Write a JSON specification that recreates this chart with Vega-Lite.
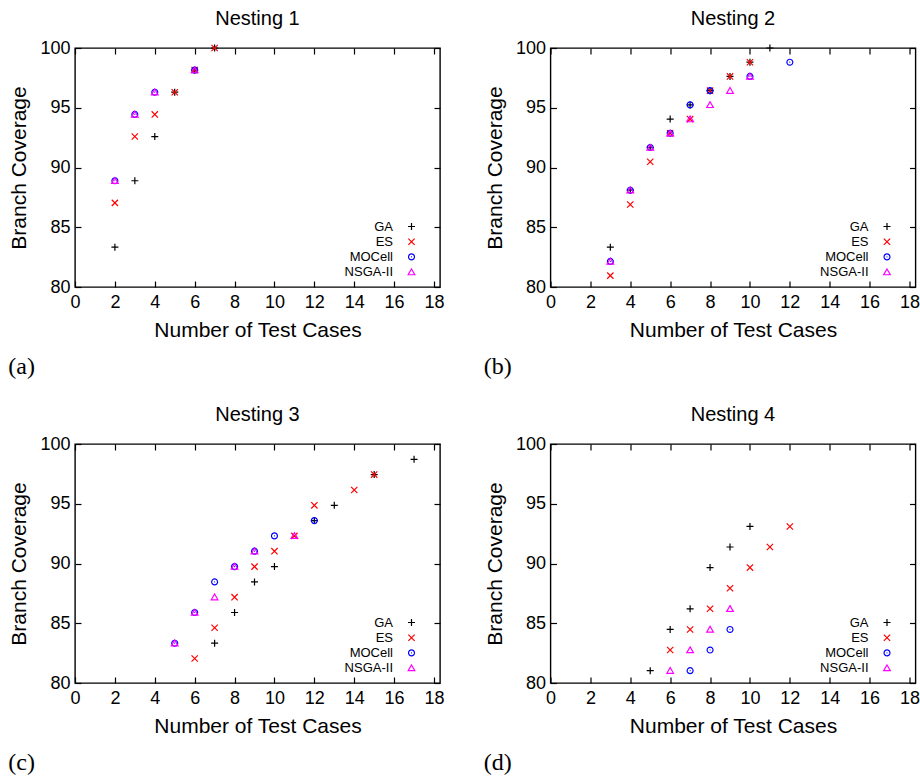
{
  "$schema": "https://vega.github.io/schema/vega-lite/v6.json",
  "padding": {"left": 8, "top": 8, "right": 0, "bottom": 0},
  "background": "white",
  "config": {
    "font": "Liberation Sans",
    "view": {"stroke": "#000000", "strokeWidth": 1.4},
    "axis": {
      "domain": false, "grid": false, "tickColor": "#000000", "tickWidth": 1.2, "tickSize": -6,
      "labelFontSize": 18, "labelColor": "#000000", "labelFlush": false, "labelFont": "Liberation Sans",
      "titleFontSize": 21, "titleFontWeight": "normal", "titleColor": "#000000", "titleFont": "Liberation Sans"
    },
    "legend": {"title": null, "orient": "none", "legendX": 330, "legendY": 172, "labelAlign": "right", "labelOffset": -25, "labelFontSize": 13, "labelFont": "Liberation Sans", "symbolStrokeWidth": 1.2, "symbolSize": 49, "rowPadding": 1.2},
    "title": {"fontSize": 20, "fontWeight": "normal", "color": "#000000", "font": "Liberation Sans"}
  },
  "datasets": {
    "pts": [
      {"n": "Nesting 1", "alg": "GA", "tc": 2, "cov": 83.33},
      {"n": "Nesting 1", "alg": "GA", "tc": 3, "cov": 88.89},
      {"n": "Nesting 1", "alg": "GA", "tc": 4, "cov": 92.59},
      {"n": "Nesting 1", "alg": "GA", "tc": 5, "cov": 96.30},
      {"n": "Nesting 1", "alg": "GA", "tc": 6, "cov": 98.15},
      {"n": "Nesting 1", "alg": "GA", "tc": 7, "cov": 100},
      {"n": "Nesting 1", "alg": "ES", "tc": 2, "cov": 87.04},
      {"n": "Nesting 1", "alg": "ES", "tc": 3, "cov": 92.59},
      {"n": "Nesting 1", "alg": "ES", "tc": 4, "cov": 94.44},
      {"n": "Nesting 1", "alg": "ES", "tc": 5, "cov": 96.30},
      {"n": "Nesting 1", "alg": "ES", "tc": 6, "cov": 98.15},
      {"n": "Nesting 1", "alg": "ES", "tc": 7, "cov": 100},
      {"n": "Nesting 1", "alg": "MOCell", "tc": 2, "cov": 88.89},
      {"n": "Nesting 1", "alg": "MOCell", "tc": 3, "cov": 94.44},
      {"n": "Nesting 1", "alg": "MOCell", "tc": 4, "cov": 96.30},
      {"n": "Nesting 1", "alg": "MOCell", "tc": 6, "cov": 98.15},
      {"n": "Nesting 1", "alg": "NSGA-II", "tc": 2, "cov": 88.89},
      {"n": "Nesting 1", "alg": "NSGA-II", "tc": 3, "cov": 94.44},
      {"n": "Nesting 1", "alg": "NSGA-II", "tc": 4, "cov": 96.30},
      {"n": "Nesting 1", "alg": "NSGA-II", "tc": 6, "cov": 98.15},

      {"n": "Nesting 2", "alg": "GA", "tc": 3, "cov": 83.33},
      {"n": "Nesting 2", "alg": "GA", "tc": 4, "cov": 88.10},
      {"n": "Nesting 2", "alg": "GA", "tc": 5, "cov": 91.67},
      {"n": "Nesting 2", "alg": "GA", "tc": 6, "cov": 94.05},
      {"n": "Nesting 2", "alg": "GA", "tc": 7, "cov": 95.24},
      {"n": "Nesting 2", "alg": "GA", "tc": 8, "cov": 96.43},
      {"n": "Nesting 2", "alg": "GA", "tc": 9, "cov": 97.62},
      {"n": "Nesting 2", "alg": "GA", "tc": 10, "cov": 98.81},
      {"n": "Nesting 2", "alg": "GA", "tc": 11, "cov": 100},
      {"n": "Nesting 2", "alg": "ES", "tc": 3, "cov": 80.95},
      {"n": "Nesting 2", "alg": "ES", "tc": 4, "cov": 86.90},
      {"n": "Nesting 2", "alg": "ES", "tc": 5, "cov": 90.48},
      {"n": "Nesting 2", "alg": "ES", "tc": 6, "cov": 92.86},
      {"n": "Nesting 2", "alg": "ES", "tc": 7, "cov": 94.05},
      {"n": "Nesting 2", "alg": "ES", "tc": 8, "cov": 96.43},
      {"n": "Nesting 2", "alg": "ES", "tc": 9, "cov": 97.62},
      {"n": "Nesting 2", "alg": "ES", "tc": 10, "cov": 98.81},
      {"n": "Nesting 2", "alg": "MOCell", "tc": 3, "cov": 82.14},
      {"n": "Nesting 2", "alg": "MOCell", "tc": 4, "cov": 88.10},
      {"n": "Nesting 2", "alg": "MOCell", "tc": 5, "cov": 91.67},
      {"n": "Nesting 2", "alg": "MOCell", "tc": 6, "cov": 92.86},
      {"n": "Nesting 2", "alg": "MOCell", "tc": 7, "cov": 95.24},
      {"n": "Nesting 2", "alg": "MOCell", "tc": 8, "cov": 96.43},
      {"n": "Nesting 2", "alg": "MOCell", "tc": 10, "cov": 97.62},
      {"n": "Nesting 2", "alg": "MOCell", "tc": 12, "cov": 98.81},
      {"n": "Nesting 2", "alg": "NSGA-II", "tc": 3, "cov": 82.14},
      {"n": "Nesting 2", "alg": "NSGA-II", "tc": 4, "cov": 88.10},
      {"n": "Nesting 2", "alg": "NSGA-II", "tc": 5, "cov": 91.67},
      {"n": "Nesting 2", "alg": "NSGA-II", "tc": 6, "cov": 92.86},
      {"n": "Nesting 2", "alg": "NSGA-II", "tc": 7, "cov": 94.05},
      {"n": "Nesting 2", "alg": "NSGA-II", "tc": 8, "cov": 95.24},
      {"n": "Nesting 2", "alg": "NSGA-II", "tc": 9, "cov": 96.43},
      {"n": "Nesting 2", "alg": "NSGA-II", "tc": 10, "cov": 97.62},

      {"n": "Nesting 3", "alg": "GA", "tc": 7, "cov": 83.33},
      {"n": "Nesting 3", "alg": "GA", "tc": 8, "cov": 85.90},
      {"n": "Nesting 3", "alg": "GA", "tc": 9, "cov": 88.46},
      {"n": "Nesting 3", "alg": "GA", "tc": 10, "cov": 89.74},
      {"n": "Nesting 3", "alg": "GA", "tc": 12, "cov": 93.59},
      {"n": "Nesting 3", "alg": "GA", "tc": 13, "cov": 94.87},
      {"n": "Nesting 3", "alg": "GA", "tc": 15, "cov": 97.44},
      {"n": "Nesting 3", "alg": "GA", "tc": 17, "cov": 98.72},
      {"n": "Nesting 3", "alg": "ES", "tc": 6, "cov": 82.05},
      {"n": "Nesting 3", "alg": "ES", "tc": 7, "cov": 84.62},
      {"n": "Nesting 3", "alg": "ES", "tc": 8, "cov": 87.18},
      {"n": "Nesting 3", "alg": "ES", "tc": 9, "cov": 89.74},
      {"n": "Nesting 3", "alg": "ES", "tc": 10, "cov": 91.03},
      {"n": "Nesting 3", "alg": "ES", "tc": 11, "cov": 92.31},
      {"n": "Nesting 3", "alg": "ES", "tc": 12, "cov": 94.87},
      {"n": "Nesting 3", "alg": "ES", "tc": 14, "cov": 96.15},
      {"n": "Nesting 3", "alg": "ES", "tc": 15, "cov": 97.44},
      {"n": "Nesting 3", "alg": "MOCell", "tc": 5, "cov": 83.33},
      {"n": "Nesting 3", "alg": "MOCell", "tc": 6, "cov": 85.90},
      {"n": "Nesting 3", "alg": "MOCell", "tc": 7, "cov": 88.46},
      {"n": "Nesting 3", "alg": "MOCell", "tc": 8, "cov": 89.74},
      {"n": "Nesting 3", "alg": "MOCell", "tc": 9, "cov": 91.03},
      {"n": "Nesting 3", "alg": "MOCell", "tc": 10, "cov": 92.31},
      {"n": "Nesting 3", "alg": "MOCell", "tc": 12, "cov": 93.59},
      {"n": "Nesting 3", "alg": "NSGA-II", "tc": 5, "cov": 83.33},
      {"n": "Nesting 3", "alg": "NSGA-II", "tc": 6, "cov": 85.90},
      {"n": "Nesting 3", "alg": "NSGA-II", "tc": 7, "cov": 87.18},
      {"n": "Nesting 3", "alg": "NSGA-II", "tc": 8, "cov": 89.74},
      {"n": "Nesting 3", "alg": "NSGA-II", "tc": 9, "cov": 91.03},
      {"n": "Nesting 3", "alg": "NSGA-II", "tc": 11, "cov": 92.31},

      {"n": "Nesting 4", "alg": "GA", "tc": 5, "cov": 81.03},
      {"n": "Nesting 4", "alg": "GA", "tc": 6, "cov": 84.48},
      {"n": "Nesting 4", "alg": "GA", "tc": 7, "cov": 86.21},
      {"n": "Nesting 4", "alg": "GA", "tc": 8, "cov": 89.66},
      {"n": "Nesting 4", "alg": "GA", "tc": 9, "cov": 91.38},
      {"n": "Nesting 4", "alg": "GA", "tc": 10, "cov": 93.10},
      {"n": "Nesting 4", "alg": "ES", "tc": 6, "cov": 82.76},
      {"n": "Nesting 4", "alg": "ES", "tc": 7, "cov": 84.48},
      {"n": "Nesting 4", "alg": "ES", "tc": 8, "cov": 86.21},
      {"n": "Nesting 4", "alg": "ES", "tc": 9, "cov": 87.93},
      {"n": "Nesting 4", "alg": "ES", "tc": 10, "cov": 89.66},
      {"n": "Nesting 4", "alg": "ES", "tc": 11, "cov": 91.38},
      {"n": "Nesting 4", "alg": "ES", "tc": 12, "cov": 93.10},
      {"n": "Nesting 4", "alg": "MOCell", "tc": 7, "cov": 81.03},
      {"n": "Nesting 4", "alg": "MOCell", "tc": 8, "cov": 82.76},
      {"n": "Nesting 4", "alg": "MOCell", "tc": 9, "cov": 84.48},
      {"n": "Nesting 4", "alg": "NSGA-II", "tc": 6, "cov": 81.03},
      {"n": "Nesting 4", "alg": "NSGA-II", "tc": 7, "cov": 82.76},
      {"n": "Nesting 4", "alg": "NSGA-II", "tc": 8, "cov": 84.48},
      {"n": "Nesting 4", "alg": "NSGA-II", "tc": 9, "cov": 86.21}
    ]
  },
  "data": {"name": "pts"},
  "resolve": {"scale": {"color": "independent", "shape": "independent"}},
  "spacing": 25,
  "vconcat": [
    {
      "spacing": 38.5,
      "resolve": {"scale": {"color": "independent", "shape": "independent"}},
      "hconcat": [
        {
          "title": {"text": "(a)", "orient": "bottom", "anchor": "start", "font": "Liberation Serif", "fontSize": 24, "offset": 14},
          "resolve": {"scale": {"color": "independent", "shape": "independent"}},
          "vconcat": [
            {
              "title": {"text": "Nesting 1", "offset": 10},
              "width": 365, "height": 239,
              "transform": [{"filter": "datum.n === 'Nesting 1'"}],
              "resolve": {"axis": {"x": "independent", "y": "independent"}},
              "layer": [
                {
                  "mark": {"type": "point", "filled": false, "strokeWidth": 1.2, "size": 49, "opacity": 1},
                  "encoding": {
                    "x": {"field": "tc", "type": "quantitative", "scale": {"domain": [0, 18.3], "nice": false, "zero": false}, "axis": {"orient": "bottom", "values": [0, 2, 4, 6, 8, 10, 12, 14, 16, 18], "labelPadding": 12, "title": "Number of Test Cases", "titlePadding": 8}},
                    "y": {"field": "cov", "type": "quantitative", "scale": {"domain": [80, 100], "nice": false, "zero": false}, "axis": {"orient": "left", "values": [80, 85, 90, 95, 100], "labelPadding": 11, "title": "Branch Coverage", "titlePadding": 10}},
                    "color": {"field": "alg", "type": "nominal", "sort": ["GA", "ES", "MOCell", "NSGA-II"], "scale": {"domain": ["GA", "ES", "MOCell", "NSGA-II"], "range": ["#000000", "#ff0000", "#0000ff", "#ff00ff"]}, "legend": {"encode": {"labels": {"update": {"fill": {"signal": "datum.label === 'GA' ? '#000000' : datum.label === 'ES' ? '#ff0000' : datum.label === 'MOCell' ? '#0000ff' : '#ff00ff'"}}}}}},
                    "shape": {"field": "alg", "type": "nominal", "sort": ["GA", "ES", "MOCell", "NSGA-II"], "scale": {"domain": ["GA", "ES", "MOCell", "NSGA-II"], "range": ["M-1,0L1,0M0,-1L0,1", "M-0.9,-0.9L0.9,0.9M-0.9,0.9L0.9,-0.9", "M-0.85,0A0.85,0.85 0 1,0 0.85,0A0.85,0.85 0 1,0 -0.85,0M-0.12,0L0.12,0", "M0,-0.9L0.95,0.75L-0.95,0.75Z"]}, "legend": {"encode": {"labels": {"update": {"fill": {"signal": "datum.label === 'GA' ? '#000000' : datum.label === 'ES' ? '#ff0000' : datum.label === 'MOCell' ? '#0000ff' : '#ff00ff'"}}}}}}
                  }
                },
                {
                  "mark": {"type": "point", "opacity": 0},
                  "encoding": {
                    "x": {"field": "tc", "type": "quantitative", "scale": {"domain": [0, 18.3], "nice": false, "zero": false}, "axis": {"orient": "top", "values": [0, 2, 4, 6, 8, 10, 12, 14, 16, 18], "labels": false, "title": null}},
                    "y": {"field": "cov", "type": "quantitative", "scale": {"domain": [80, 100], "nice": false, "zero": false}, "axis": {"orient": "right", "values": [80, 85, 90, 95, 100], "labels": false, "title": null}}
                  }
                }
              ]
            }
          ]
        },
        {
          "title": {"text": "(b)", "orient": "bottom", "anchor": "start", "font": "Liberation Serif", "fontSize": 24, "offset": 14},
          "resolve": {"scale": {"color": "independent", "shape": "independent"}},
          "vconcat": [
            {
              "title": {"text": "Nesting 2", "offset": 10},
              "width": 365, "height": 239,
              "transform": [{"filter": "datum.n === 'Nesting 2'"}],
              "resolve": {"axis": {"x": "independent", "y": "independent"}},
              "layer": [
                {
                  "mark": {"type": "point", "filled": false, "strokeWidth": 1.2, "size": 49, "opacity": 1},
                  "encoding": {
                    "x": {"field": "tc", "type": "quantitative", "scale": {"domain": [0, 18.3], "nice": false, "zero": false}, "axis": {"orient": "bottom", "values": [0, 2, 4, 6, 8, 10, 12, 14, 16, 18], "labelPadding": 12, "title": "Number of Test Cases", "titlePadding": 8}},
                    "y": {"field": "cov", "type": "quantitative", "scale": {"domain": [80, 100], "nice": false, "zero": false}, "axis": {"orient": "left", "values": [80, 85, 90, 95, 100], "labelPadding": 11, "title": "Branch Coverage", "titlePadding": 10}},
                    "color": {"field": "alg", "type": "nominal", "sort": ["GA", "ES", "MOCell", "NSGA-II"], "scale": {"domain": ["GA", "ES", "MOCell", "NSGA-II"], "range": ["#000000", "#ff0000", "#0000ff", "#ff00ff"]}, "legend": {"encode": {"labels": {"update": {"fill": {"signal": "datum.label === 'GA' ? '#000000' : datum.label === 'ES' ? '#ff0000' : datum.label === 'MOCell' ? '#0000ff' : '#ff00ff'"}}}}}},
                    "shape": {"field": "alg", "type": "nominal", "sort": ["GA", "ES", "MOCell", "NSGA-II"], "scale": {"domain": ["GA", "ES", "MOCell", "NSGA-II"], "range": ["M-1,0L1,0M0,-1L0,1", "M-0.9,-0.9L0.9,0.9M-0.9,0.9L0.9,-0.9", "M-0.85,0A0.85,0.85 0 1,0 0.85,0A0.85,0.85 0 1,0 -0.85,0M-0.12,0L0.12,0", "M0,-0.9L0.95,0.75L-0.95,0.75Z"]}, "legend": {"encode": {"labels": {"update": {"fill": {"signal": "datum.label === 'GA' ? '#000000' : datum.label === 'ES' ? '#ff0000' : datum.label === 'MOCell' ? '#0000ff' : '#ff00ff'"}}}}}}
                  }
                },
                {
                  "mark": {"type": "point", "opacity": 0},
                  "encoding": {
                    "x": {"field": "tc", "type": "quantitative", "scale": {"domain": [0, 18.3], "nice": false, "zero": false}, "axis": {"orient": "top", "values": [0, 2, 4, 6, 8, 10, 12, 14, 16, 18], "labels": false, "title": null}},
                    "y": {"field": "cov", "type": "quantitative", "scale": {"domain": [80, 100], "nice": false, "zero": false}, "axis": {"orient": "right", "values": [80, 85, 90, 95, 100], "labels": false, "title": null}}
                  }
                }
              ]
            }
          ]
        }
      ]
    },
    {
      "spacing": 38.5,
      "resolve": {"scale": {"color": "independent", "shape": "independent"}},
      "hconcat": [
        {
          "title": {"text": "(c)", "orient": "bottom", "anchor": "start", "font": "Liberation Serif", "fontSize": 24, "offset": 14},
          "resolve": {"scale": {"color": "independent", "shape": "independent"}},
          "vconcat": [
            {
              "title": {"text": "Nesting 3", "offset": 10},
              "width": 365, "height": 239,
              "transform": [{"filter": "datum.n === 'Nesting 3'"}],
              "resolve": {"axis": {"x": "independent", "y": "independent"}},
              "layer": [
                {
                  "mark": {"type": "point", "filled": false, "strokeWidth": 1.2, "size": 49, "opacity": 1},
                  "encoding": {
                    "x": {"field": "tc", "type": "quantitative", "scale": {"domain": [0, 18.3], "nice": false, "zero": false}, "axis": {"orient": "bottom", "values": [0, 2, 4, 6, 8, 10, 12, 14, 16, 18], "labelPadding": 12, "title": "Number of Test Cases", "titlePadding": 8}},
                    "y": {"field": "cov", "type": "quantitative", "scale": {"domain": [80, 100], "nice": false, "zero": false}, "axis": {"orient": "left", "values": [80, 85, 90, 95, 100], "labelPadding": 11, "title": "Branch Coverage", "titlePadding": 10}},
                    "color": {"field": "alg", "type": "nominal", "sort": ["GA", "ES", "MOCell", "NSGA-II"], "scale": {"domain": ["GA", "ES", "MOCell", "NSGA-II"], "range": ["#000000", "#ff0000", "#0000ff", "#ff00ff"]}, "legend": {"encode": {"labels": {"update": {"fill": {"signal": "datum.label === 'GA' ? '#000000' : datum.label === 'ES' ? '#ff0000' : datum.label === 'MOCell' ? '#0000ff' : '#ff00ff'"}}}}}},
                    "shape": {"field": "alg", "type": "nominal", "sort": ["GA", "ES", "MOCell", "NSGA-II"], "scale": {"domain": ["GA", "ES", "MOCell", "NSGA-II"], "range": ["M-1,0L1,0M0,-1L0,1", "M-0.9,-0.9L0.9,0.9M-0.9,0.9L0.9,-0.9", "M-0.85,0A0.85,0.85 0 1,0 0.85,0A0.85,0.85 0 1,0 -0.85,0M-0.12,0L0.12,0", "M0,-0.9L0.95,0.75L-0.95,0.75Z"]}, "legend": {"encode": {"labels": {"update": {"fill": {"signal": "datum.label === 'GA' ? '#000000' : datum.label === 'ES' ? '#ff0000' : datum.label === 'MOCell' ? '#0000ff' : '#ff00ff'"}}}}}}
                  }
                },
                {
                  "mark": {"type": "point", "opacity": 0},
                  "encoding": {
                    "x": {"field": "tc", "type": "quantitative", "scale": {"domain": [0, 18.3], "nice": false, "zero": false}, "axis": {"orient": "top", "values": [0, 2, 4, 6, 8, 10, 12, 14, 16, 18], "labels": false, "title": null}},
                    "y": {"field": "cov", "type": "quantitative", "scale": {"domain": [80, 100], "nice": false, "zero": false}, "axis": {"orient": "right", "values": [80, 85, 90, 95, 100], "labels": false, "title": null}}
                  }
                }
              ]
            }
          ]
        },
        {
          "title": {"text": "(d)", "orient": "bottom", "anchor": "start", "font": "Liberation Serif", "fontSize": 24, "offset": 14},
          "resolve": {"scale": {"color": "independent", "shape": "independent"}},
          "vconcat": [
            {
              "title": {"text": "Nesting 4", "offset": 10},
              "width": 365, "height": 239,
              "transform": [{"filter": "datum.n === 'Nesting 4'"}],
              "resolve": {"axis": {"x": "independent", "y": "independent"}},
              "layer": [
                {
                  "mark": {"type": "point", "filled": false, "strokeWidth": 1.2, "size": 49, "opacity": 1},
                  "encoding": {
                    "x": {"field": "tc", "type": "quantitative", "scale": {"domain": [0, 18.3], "nice": false, "zero": false}, "axis": {"orient": "bottom", "values": [0, 2, 4, 6, 8, 10, 12, 14, 16, 18], "labelPadding": 12, "title": "Number of Test Cases", "titlePadding": 8}},
                    "y": {"field": "cov", "type": "quantitative", "scale": {"domain": [80, 100], "nice": false, "zero": false}, "axis": {"orient": "left", "values": [80, 85, 90, 95, 100], "labelPadding": 11, "title": "Branch Coverage", "titlePadding": 10}},
                    "color": {"field": "alg", "type": "nominal", "sort": ["GA", "ES", "MOCell", "NSGA-II"], "scale": {"domain": ["GA", "ES", "MOCell", "NSGA-II"], "range": ["#000000", "#ff0000", "#0000ff", "#ff00ff"]}, "legend": {"encode": {"labels": {"update": {"fill": {"signal": "datum.label === 'GA' ? '#000000' : datum.label === 'ES' ? '#ff0000' : datum.label === 'MOCell' ? '#0000ff' : '#ff00ff'"}}}}}},
                    "shape": {"field": "alg", "type": "nominal", "sort": ["GA", "ES", "MOCell", "NSGA-II"], "scale": {"domain": ["GA", "ES", "MOCell", "NSGA-II"], "range": ["M-1,0L1,0M0,-1L0,1", "M-0.9,-0.9L0.9,0.9M-0.9,0.9L0.9,-0.9", "M-0.85,0A0.85,0.85 0 1,0 0.85,0A0.85,0.85 0 1,0 -0.85,0M-0.12,0L0.12,0", "M0,-0.9L0.95,0.75L-0.95,0.75Z"]}, "legend": {"encode": {"labels": {"update": {"fill": {"signal": "datum.label === 'GA' ? '#000000' : datum.label === 'ES' ? '#ff0000' : datum.label === 'MOCell' ? '#0000ff' : '#ff00ff'"}}}}}}
                  }
                },
                {
                  "mark": {"type": "point", "opacity": 0},
                  "encoding": {
                    "x": {"field": "tc", "type": "quantitative", "scale": {"domain": [0, 18.3], "nice": false, "zero": false}, "axis": {"orient": "top", "values": [0, 2, 4, 6, 8, 10, 12, 14, 16, 18], "labels": false, "title": null}},
                    "y": {"field": "cov", "type": "quantitative", "scale": {"domain": [80, 100], "nice": false, "zero": false}, "axis": {"orient": "right", "values": [80, 85, 90, 95, 100], "labels": false, "title": null}}
                  }
                }
              ]
            }
          ]
        }
      ]
    }
  ]
}
